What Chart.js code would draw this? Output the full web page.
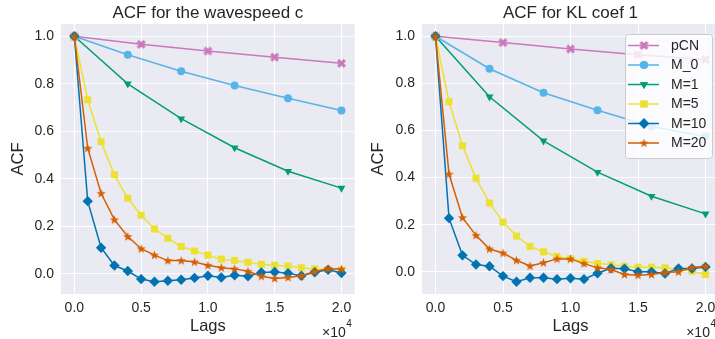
<!DOCTYPE html>
<html><head><meta charset="utf-8">
<script src="https://cdn.jsdelivr.net/npm/chart.js@4.4.1/dist/chart.umd.min.js"></script>
<style>
html,body{margin:0;padding:0;background:#fff;overflow:hidden;width:715px;height:339px;}
#wrap{position:relative;width:715px;height:339px;overflow:hidden;}
#c1{position:absolute;left:0;top:0;}
#c2{position:absolute;left:360px;top:0;}
</style></head><body>
<div id="wrap"><canvas id="c1" width="360" height="339"></canvas><canvas id="c2" width="370" height="339"></canvas></div>
<script>
// ---------- data ----------
const seriesNames = ['pCN', 'M_0', 'M=1', 'M=5', 'M=10', 'M=20'];
const lagsPCN = [0, 5000, 10000, 15000, 20000];
const lagsCoarse = [0, 4000, 8000, 12000, 16000, 20000];
const lagsFine = [0, 1000, 2000, 3000, 4000, 5000, 6000, 7000, 8000, 9000, 10000,
                  11000, 12000, 13000, 14000, 15000, 16000, 17000, 18000, 19000, 20000];
const xTickValues = [0, 5000, 10000, 15000, 20000];
const yTickValues = [0.0, 0.2, 0.4, 0.6, 0.8, 1.0];

// ACF for the wavespeed c
const pCN_c = [1.0, 0.966, 0.938, 0.912, 0.886];
const M0_c  = [1.0, 0.922, 0.853, 0.793, 0.739, 0.688];
const M1_c  = [1.0, 0.800, 0.653, 0.531, 0.432, 0.361];
const M5_c  = [1.0, 0.733, 0.556, 0.417, 0.318, 0.247, 0.189, 0.150, 0.115, 0.096, 0.079,
               0.062, 0.056, 0.049, 0.040, 0.036, 0.033, 0.026, 0.021, 0.019, 0.015];
const M10_c = [1.0, 0.306, 0.110, 0.035, 0.012, -0.022, -0.033, -0.029, -0.025, -0.017, -0.008,
               -0.015, -0.006, -0.010, 0.006, 0.008, 0.003, -0.008, 0.007, 0.017, 0.004];
const M20_c = [1.0, 0.529, 0.339, 0.228, 0.157, 0.106, 0.079, 0.056, 0.056, 0.050, 0.036,
               0.026, 0.021, 0.011, -0.010, -0.019, -0.015, -0.008, 0.010, 0.022, 0.020];

// ACF for KL coef 1
const pCN_k = [1.0, 0.973, 0.946, 0.922, 0.901];
const M0_k  = [1.0, 0.862, 0.760, 0.686, 0.617, 0.574];
const M1_k  = [1.0, 0.743, 0.556, 0.423, 0.321, 0.246];
const M5_k  = [1.0, 0.722, 0.535, 0.397, 0.292, 0.211, 0.152, 0.108, 0.085, 0.065, 0.056,
               0.045, 0.035, 0.030, 0.024, 0.020, 0.020, 0.017, 0.011, 0.003, -0.011];
const M10_k = [1.0, 0.228, 0.070, 0.031, 0.024, -0.018, -0.042, -0.025, -0.025, -0.031, -0.027,
               -0.031, -0.006, 0.015, 0.013, 0.000, 0.000, -0.007, 0.014, 0.014, 0.021];
const M20_k = [1.0, 0.415, 0.230, 0.155, 0.097, 0.080, 0.049, 0.025, 0.039, 0.055, 0.055,
               0.035, 0.017, 0.010, -0.011, -0.014, -0.011, -0.003, 0.000, 0.018, 0.024];

// ---------- style ----------
const FONT = "'Liberation Sans', Arial, sans-serif";
const TXT = '#262626';
const colors = ['#cc78bc', '#56b4e9', '#029e73', '#ece133', '#0173b2', '#d55e00'];

function markerX(color) {
  const c = document.createElement('canvas'); c.width = 11; c.height = 11;
  const g = c.getContext('2d'); g.fillStyle = color;
  g.translate(5.5, 5.5); g.rotate(Math.PI / 4);
  g.fillRect(-4.8, -1.6, 9.6, 3.2); g.fillRect(-1.6, -4.8, 3.2, 9.6);
  return c;
}
function markerStar(color) {
  const c = document.createElement('canvas'); c.width = 11; c.height = 11;
  const g = c.getContext('2d'); g.fillStyle = color;
  g.beginPath();
  for (let i = 0; i < 10; i++) {
    const r = i % 2 === 0 ? 4.8 : 2.0;
    const a = -Math.PI / 2 + i * Math.PI / 5;
    const px = 5.5 + r * Math.cos(a), py = 5.8 + r * Math.sin(a);
    i === 0 ? g.moveTo(px, py) : g.lineTo(px, py);
  }
  g.closePath(); g.fill();
  return c;
}
const pStyles = [
  {style: markerX(colors[0]), radius: 4, rot: 0},
  {style: 'circle', radius: 4, rot: 0},
  {style: 'triangle', radius: 4.6, rot: 180},
  {style: 'rect', radius: 5, rot: 0},
  {style: 'rectRot', radius: 5.2, rot: 0},
  {style: markerStar(colors[5]), radius: 4, rot: 0}
];

function makeDatasets(xsList, ysList) {
  return ysList.map((ys, i) => ({
    label: seriesNames[i],
    data: xsList[i].map((x, j) => ({x: x, y: ys[j]})),
    borderColor: colors[i],
    backgroundColor: colors[i],
    borderWidth: 1.5,
    pointStyle: pStyles[i].style,
    pointRadius: pStyles[i].radius,
    pointRotation: pStyles[i].rot,
    pointBorderWidth: 0,
    pointBackgroundColor: colors[i],
    tension: 0,
    order: 6 - i
  }));
}

function drawMarker(ctx, i, x, y) {
  const p = pStyles[i];
  ctx.save();
  ctx.fillStyle = colors[i];
  if (typeof p.style !== 'string') {
    ctx.drawImage(p.style, x - p.style.width / 2, y - p.style.height / 2);
  } else {
    Chart.helpers.drawPoint(ctx, {pointStyle: p.style, radius: p.radius, rotation: p.rot, borderWidth: 0}, x, y);
    ctx.fill();
  }
  ctx.restore();
}

const decor = {
  id: 'decor',
  beforeDraw(chart) {
    const a = chart.chartArea, ctx = chart.ctx;
    ctx.save(); ctx.fillStyle = '#eaeaf2';
    ctx.fillRect(a.left, a.top, a.right - a.left, a.bottom - a.top);
    ctx.restore();
  },
  afterDraw(chart, args, opts) {
    const a = chart.chartArea, ctx = chart.ctx;
    ctx.save();
    ctx.fillStyle = TXT;
    // title
    ctx.font = '17px ' + FONT; ctx.textAlign = 'center'; ctx.textBaseline = 'alphabetic';
    ctx.fillText(opts.title, (a.left + a.right) / 2, 17.5);
    // offset text x10^4
    ctx.textAlign = 'right';
    ctx.font = '10px ' + FONT;
    const sup = '4'; const wSup = ctx.measureText(sup).width;
    const xr = a.right - 3;
    ctx.fillText(sup, xr, 326.5);
    ctx.font = '14px ' + FONT;
    ctx.fillText('\u00d710', xr - wSup - 0.5, 337);
    // legend
    if (opts.legend) {
      const bx = a.right - 94, by = a.top + 10, bw = 87, bh = 124;
      ctx.beginPath();
      if (ctx.roundRect) ctx.roundRect(bx + 0.5, by + 0.5, bw, bh, 3); else ctx.rect(bx + 0.5, by + 0.5, bw, bh);
      ctx.fillStyle = 'rgba(255,255,255,0.8)'; ctx.fill();
      ctx.strokeStyle = '#cccccc'; ctx.lineWidth = 1; ctx.stroke();
      ctx.font = '14px ' + FONT; ctx.textAlign = 'left'; ctx.textBaseline = 'middle';
      for (let i = 0; i < seriesNames.length; i++) {
        const y = by + 11.5 + i * 19.5;
        ctx.strokeStyle = colors[i]; ctx.lineWidth = 1.5;
        ctx.beginPath(); ctx.moveTo(bx + 3, y); ctx.lineTo(bx + 34, y); ctx.stroke();
        drawMarker(ctx, i, bx + 19, y);
        ctx.fillStyle = TXT;
        ctx.fillText(seriesNames[i], bx + 46, y + 0.5);
      }
    }
    ctx.restore();
  }
};

function makeChart(id, datasets, title, yMin, yMax, yWidth, padRight, showLegend) {
  return new Chart(document.getElementById(id), {
    type: 'line',
    data: {datasets: datasets},
    plugins: [decor],
    options: {
      responsive: false, animation: false, devicePixelRatio: 1,
      layout: {padding: {top: 24, right: padRight, left: 0, bottom: 0}},
      plugins: {
        legend: {display: false}, title: {display: false}, tooltip: {enabled: false},
        decor: {title: title, legend: showLegend}
      },
      scales: {
        x: {
          type: 'linear', min: -1000, max: 21000,
          afterBuildTicks: s => { s.ticks = xTickValues.map(v => ({value: v})); },
          afterFit: s => { s.height = 45; },
          grid: {color: '#ffffff', lineWidth: 1, drawTicks: false},
          border: {display: false},
          ticks: {padding: 6, color: TXT, font: {family: FONT, size: 14},
                  callback: v => (v / 10000).toFixed(1)},
          title: {display: true, text: 'Lags', color: TXT, font: {family: FONT, size: 16.5},
                  padding: {top: 0, bottom: 3}}
        },
        y: {
          type: 'linear', min: yMin, max: yMax,
          afterBuildTicks: s => { s.ticks = yTickValues.map(v => ({value: v})); },
          afterFit: s => { s.width = yWidth; },
          grid: {color: '#ffffff', lineWidth: 1, drawTicks: false},
          border: {display: false},
          ticks: {padding: 7, color: TXT, font: {family: FONT, size: 14},
                  callback: v => v.toFixed(1)},
          title: {display: true, text: 'ACF', color: TXT, font: {family: FONT, size: 16.5},
                  padding: {top: 9, bottom: 0}}
        }
      }
    }
  });
}

const xsList = [lagsPCN, lagsCoarse, lagsCoarse, lagsFine, lagsFine, lagsFine];
makeChart('c1', makeDatasets(xsList, [pCN_c, M0_c, M1_c, M5_c, M10_c, M20_c]),
          'ACF for the wavespeed c', -0.0847, 1.0517, 61, 3, false);
makeChart('c2', makeDatasets(xsList, [pCN_k, M0_k, M1_k, M5_k, M10_k, M20_k]),
          'ACF for KL coef 1', -0.094, 1.052, 62, 11, true);
</script>
</body></html>
